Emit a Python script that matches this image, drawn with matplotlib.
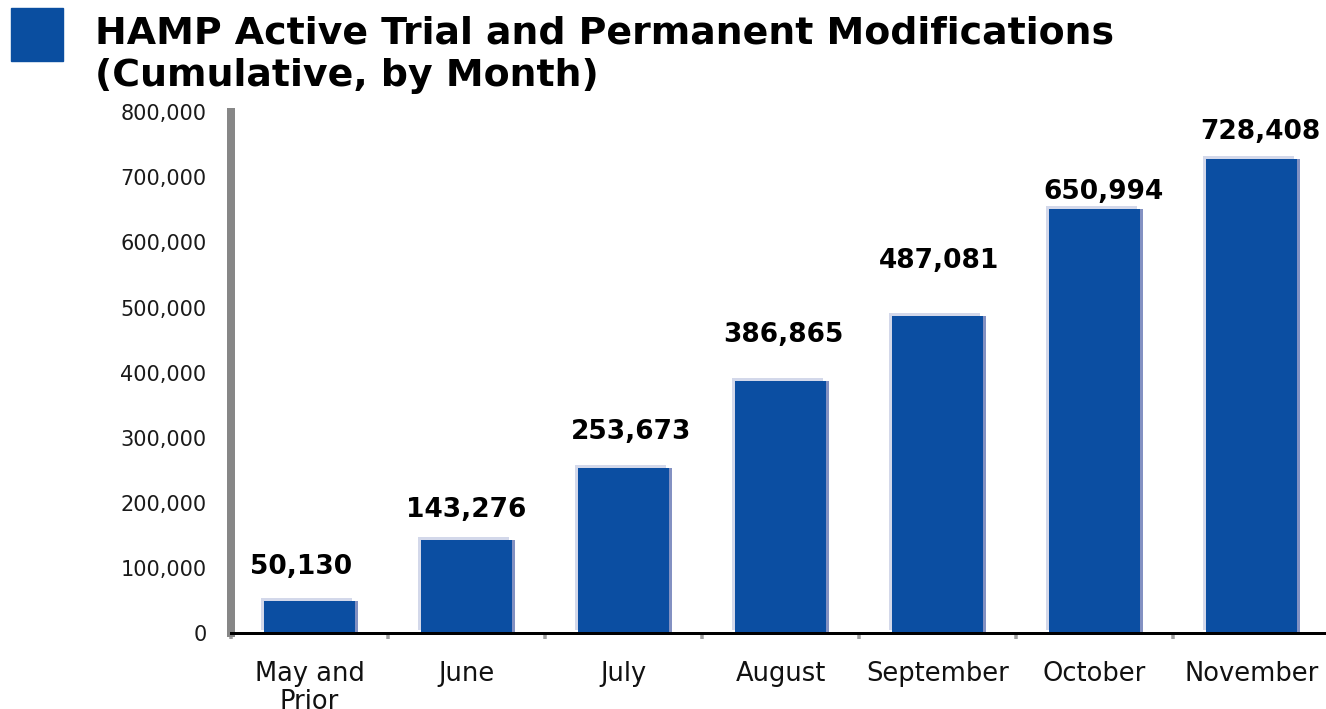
import numpy as np
import matplotlib
matplotlib.use('Agg')
import matplotlib.pyplot as plt
import matplotlib.patheffects as pe
from matplotlib.patches import Rectangle
from matplotlib.ticker import FuncFormatter, FixedLocator

# data
months = ["May and\nPrior", "June", "July", "August", "September", "October", "November"]
modifications = [50130, 143276, 253673, 386865, 487081, 650994, 728408]
y_ticks = [0, 100000, 200000, 300000, 400000, 500000, 600000, 700000, 800000]

# label nudges (pixels) so value labels sit where the original put them
label_dx = [-8, 0, 8, 3, 2, 9, 9]
label_gap = [27, 23, 29, 39, 48, 10, 20]

bar_color = '#0B4EA2'
px = 0.72  # points per pixel at dpi 100

fig = plt.figure(figsize=(13.26, 7.09), dpi=100)
ax = fig.add_axes([231 / 1326, 0.1065, 1099 / 1326, 0.7355])

x = np.arange(len(months))
bars = ax.bar(x, modifications, width=0.575, color=bar_color, zorder=3)
for b in bars:
    b.set_path_effects([
        pe.SimplePatchShadow(offset=(3 * px, 0), shadow_rgbFace='#8391c2', alpha=1),
        pe.SimplePatchShadow(offset=(-3 * px, 3 * px), shadow_rgbFace='#d3d8ea', alpha=1),
        pe.Normal(),
    ])

for i, (b, v) in enumerate(zip(bars, modifications)):
    ax.annotate(f'{v:,}', xy=(b.get_x() + b.get_width() / 2, v),
                xytext=(label_dx[i] * px, label_gap[i] * px), textcoords='offset points',
                ha='center', va='baseline', fontsize=19, fontweight='bold', color='#000000')

ax.set_xlim(-0.5, len(months) - 0.5)
ax.set_ylim(0, 800000)
ax.set_yticks(y_ticks)
ax.yaxis.set_major_formatter(FuncFormatter(lambda v, p: f'{int(v):,}'))
ax.tick_params(axis='y', length=3 * px, width=3 * px, color='#999999', pad=15.5,
               labelsize=15, labelcolor='#1a1a1a')

ax.set_xticks(x)
ax.set_xticklabels(months, fontsize=18.5, linespacing=1.08, color='#111111')
ax.tick_params(axis='x', which='major', length=0, pad=20)
ax.xaxis.set_minor_locator(FixedLocator(np.arange(-0.5, len(months), 1.0)))
ax.tick_params(axis='x', which='minor', length=6 * px, width=3.5 * px, color='#a0a0a0')

for s in ['top', 'right']:
    ax.spines[s].set_visible(False)
ax.spines['left'].set_color('#878787')
ax.spines['left'].set_linewidth(8 * px)
ax.spines['bottom'].set_color('#000000')
ax.spines['bottom'].set_linewidth(3 * px)
ax.spines['bottom'].set_zorder(4)

# title block with the blue square
fig.patches.append(Rectangle((11 / 1326, 1 - 61 / 709), 52 / 1326, 53 / 709,
                             transform=fig.transFigure, color='#0A4EA0'))
fig.text(95 / 1326, 1 - 43 / 709, "HAMP Active Trial and Permanent Modifications",
         fontsize=27.3, fontweight='bold', va='baseline', ha='left')
fig.text(95 / 1326, 1 - 86 / 709, "(Cumulative, by Month)",
         fontsize=27.3, fontweight='bold', va='baseline', ha='left')

plt.savefig("out.png", dpi=100)
